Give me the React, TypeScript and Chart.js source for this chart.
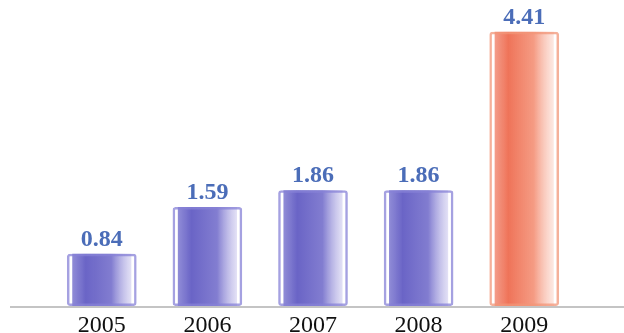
import React, { useEffect, useRef } from "react";
import { Chart, registerables } from "chart.js";

Chart.register(...registerables);

const years = ["2005", "2006", "2007", "2008", "2009"];
const values = [0.84, 1.59, 1.86, 1.86, 4.41];
const highlightYear = "2009";

const BLUE_EDGE = "rgba(135, 130, 215, 0.75)";
const ORANGE_EDGE = "rgba(242, 150, 120, 0.75)";
const LABEL_COLOR = "#4b6db8";

// Brush-like horizontal fill: strong on the left, fading out to the right edge
function fillFor(ctx: any) {
  const chart = ctx.chart;
  const i = ctx.dataIndex;
  const hot = years[i] === highlightYear;
  const flat = hot ? "rgba(240,120,90,0.8)" : "rgba(105,100,200,0.8)";
  const xs = chart.scales?.x;
  if (!xs || i === undefined) return flat;
  const cx = xs.getPixelForValue(i);
  if (!Number.isFinite(cx)) return flat;
  const g = chart.ctx.createLinearGradient(cx - 32, 0, cx + 32, 0);
  if (hot) {
    g.addColorStop(0, "rgba(240,125,100,0.7)");
    g.addColorStop(0.25, "rgba(238,108,80,0.95)");
    g.addColorStop(0.65, "rgba(242,130,100,0.8)");
    g.addColorStop(1, "rgba(250,200,185,0.3)");
  } else {
    g.addColorStop(0, "rgba(115,110,205,0.75)");
    g.addColorStop(0.25, "rgba(98,92,195,0.95)");
    g.addColorStop(0.65, "rgba(108,102,200,0.85)");
    g.addColorStop(1, "rgba(185,180,232,0.3)");
  }
  return g;
}

const baseline = {
  id: "baseline",
  beforeDatasetsDraw(chart: any) {
    const { ctx, chartArea } = chart;
    ctx.save();
    ctx.strokeStyle = "#c4c4c4";
    ctx.lineWidth = 2;
    ctx.beginPath();
    ctx.moveTo(10, chartArea.bottom + 1);
    ctx.lineTo(chart.width, chartArea.bottom + 1);
    ctx.stroke();
    ctx.restore();
  },
};

const valueLabels = {
  id: "valueLabels",
  afterDatasetsDraw(chart: any) {
    const { ctx } = chart;
    const meta = chart.getDatasetMeta(0);
    ctx.save();
    ctx.font = "bold 24px 'Liberation Serif', serif";
    ctx.fillStyle = LABEL_COLOR;
    ctx.textAlign = "center";
    ctx.textBaseline = "alphabetic";
    meta.data.forEach((bar: any, i: number) => {
      ctx.fillText(values[i].toFixed(2), bar.x, bar.y - 8);
    });
    ctx.restore();
  },
};

export default function App() {
  const ref = useRef<HTMLCanvasElement>(null);

  useEffect(() => {
    if (!ref.current) return;
    const chart = new Chart(ref.current, {
      type: "bar",
      data: {
        labels: years,
        datasets: [
          {
            data: values,
            backgroundColor: "rgba(0,0,0,0)",
            borderColor: years.map((y) => (y === highlightYear ? ORANGE_EDGE : BLUE_EDGE)),
            borderWidth: 2.5,
            borderRadius: 3,
            borderSkipped: false,
            barPercentage: 0.66,
            categoryPercentage: 1,
            grouped: false,
            order: 1,
          },
          {
            data: values,
            backgroundColor: fillFor,
            borderWidth: 0,
            barPercentage: 0.56,
            categoryPercentage: 1,
            grouped: false,
            order: 2,
          },
        ],
      },
      options: {
        animation: false,
        responsive: false,
        maintainAspectRatio: false,
        layout: { padding: { left: 49, right: 47, top: 0, bottom: 0 } },
        plugins: {
          legend: { display: false },
          title: { display: false },
          tooltip: { enabled: false },
        },
        scales: {
          x: {
            grid: { display: false, drawTicks: false },
            border: { display: false },
            ticks: {
              color: "#111",
              font: { family: "'Liberation Serif', serif", size: 24 },
              padding: 5,
              maxRotation: 0,
            },
            afterFit: (scale: any) => {
              scale.height = 27;
            },
          },
          y: {
            display: false,
            min: 0,
            max: 4.92,
          },
        },
      },
      plugins: [baseline, valueLabels],
    });
    return () => chart.destroy();
  }, []);

  return (
    <div style={{ position: "fixed", left: 0, top: 0, width: 624, height: 333, background: "#fff" }}>
      <canvas ref={ref} width={624} height={333} style={{ display: "block" }} />
    </div>
  );
}
